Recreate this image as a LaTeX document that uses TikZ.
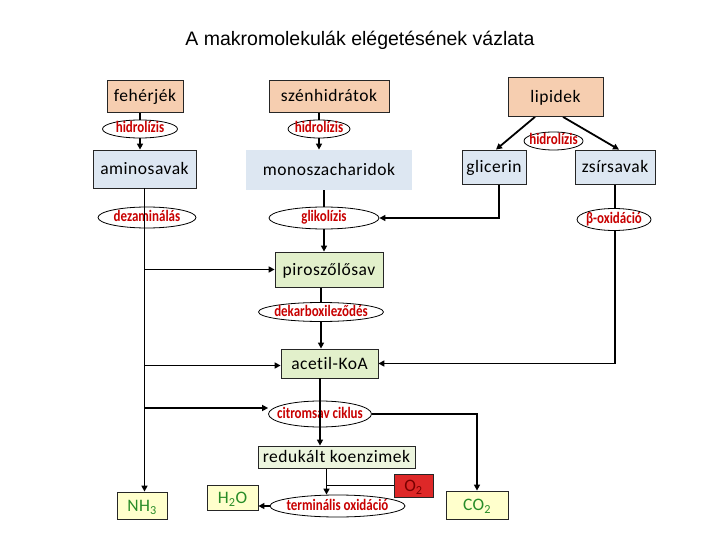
\documentclass[tikz,border=0pt]{standalone}
\usepackage{fontspec}
\setmainfont{Carlito}
\newfontfamily\titlefont{Liberation Sans}
\newfontfamily\boxfont[LetterSpace=3, Ligatures=NoCommon]{Carlito}
\newfontfamily\procfont[FakeStretch=0.81, Ligatures=NoCommon]{Carlito}
\usetikzlibrary{arrows.meta, shapes.geometric, backgrounds}
\definecolor{peach}{RGB}{246,206,176}
\definecolor{paleblue}{RGB}{221,231,242}
\definecolor{palegreen}{RGB}{226,240,203}
\definecolor{lightgreen}{RGB}{236,245,222}
\definecolor{paleyellow}{RGB}{255,255,204}
\definecolor{redbox}{RGB}{222,40,40}
\definecolor{darkred}{RGB}{120,0,0}
\definecolor{procred}{RGB}{200,0,0}
\definecolor{molgreen}{RGB}{40,140,40}

\begin{document}
\begin{tikzpicture}[x=1pt, y=-1pt,
  box/.style   = {draw=black!85, line width=0.8pt, inner sep=0pt, text height=16.6pt, text depth=4.7pt,
                  font=\boxfont\fontsize{17.5}{20}\selectfont},
  src/.style   = {box, fill=peach},
  inter/.style = {box, fill=paleblue},
  met/.style   = {box, fill=palegreen},
  prod/.style  = {box, fill=paleyellow, text=molgreen},
  proc/.style  = {ellipse, draw, line width=0.8pt, fill=white, inner sep=0pt, text=procred,
                  text height=9.6pt, text depth=1.6pt,
                  font=\procfont\bfseries\fontsize{16}{18}\selectfont,
                  execute at begin node=\hbox to 0pt\bgroup\hss,
                  execute at end node=\hss\egroup},
  arr/.style   = {-{Triangle[length=6pt,width=6pt]}, line width=1.8pt},
  ln/.style    = {line width=1.8pt}
]
\useasboundingbox (0,0) rectangle (720,540);

\node[font=\titlefont\fontsize{19.5}{22}\selectfont] (title) at (360,40) {A makromolekulák elégetésének vázlata};

% tapanyagok
\node[src, minimum width=76pt,  minimum height=32pt] (feh)  at (145,96)   {fehérjék};
\node[src, minimum width=120pt, minimum height=32pt] (szen) at (329,96)   {szénhidrátok};
\node[src, minimum width=95pt,  minimum height=39pt] (lip)  at (555.5,97) {lipidek};

% epitokovek
\node[inter, minimum width=103pt, minimum height=38pt] (amino)  at (144.5,169) {aminosavak};
\node[inter, draw=none, minimum width=166pt, minimum height=40pt] (monosz) at (329,170) {monoszacharidok};
\node[inter, minimum width=64pt, minimum height=34pt] (glic) at (494,167) {glicerin};
\node[inter, minimum width=80pt, minimum height=34pt] (zsir) at (615,167) {zsírsavak};

% kozos ut
\node[met, minimum width=108pt, minimum height=35pt] (piro)   at (329,269.5)   {piroszőlősav};
\node[met, minimum width=97pt,  minimum height=29pt] (acetil) at (329.5,363.5) {acetil-KoA};
\node[met, fill=lightgreen, minimum width=157pt, minimum height=22pt] (redu) at (336.5,457) {redukált koenzimek};

% vegtermekek
\node[prod, minimum width=50pt, minimum height=27pt] (nh3) at (142,505.5)   {NH\textsubscript{3}};
\node[prod, minimum width=51pt, minimum height=25pt] (h2o) at (232.5,497.5) {H\textsubscript{2}O};
\node[prod, minimum width=62pt, minimum height=28pt] (co2) at (477,505)     {CO\textsubscript{2}};
\node[box, fill=redbox, text=darkred, minimum width=39pt, minimum height=23pt] (o2) at (413.5,485.5) {O\textsubscript{2}};

% folyamatok
\node[proc, minimum width=75pt,  minimum height=18pt] (hid1)   at (140,129)   {hidrolízis};
\node[proc, minimum width=62pt,  minimum height=18pt] (hid2)   at (319,129)   {hidrolízis};
\node[proc, minimum width=59pt,  minimum height=18pt] (hid3)   at (553.5,141) {hidrolízis};
\node[proc, minimum width=98pt,  minimum height=21pt] (dezam)  at (147,217.5) {dezaminálás};
\node[proc, minimum width=110pt, minimum height=22pt] (glik)   at (324,218)   {glikolízis};
\node[proc, minimum width=74pt,  minimum height=22pt] (boxi)   at (614,219.5) {β-oxidáció};
\node[proc, minimum width=125pt, minimum height=19pt] (dekarb) at (321,312)   {dekarboxileződés};
\node[proc, minimum width=103pt, minimum height=26pt] (citr)   at (320,414)   {citromsav ciklus};
\node[proc, minimum width=135pt, minimum height=22pt] (term)   at (337.5,506) {terminális oxidáció};

\coordinate (tj) at ([xshift=-10pt]redu.south);

\begin{scope}[on background layer]
\draw[arr] (feh.south -| hid1) -- (amino.north -| hid1);
\draw[arr] (szen.south -| hid2) -- (monosz.north -| hid2);
\draw[arr] ([xshift=-20.5pt]lip.south) -- ([xshift=2pt]glic.north);
\draw[arr] ([xshift=7.5pt]lip.south) -- ([xshift=4pt]zsir.north);
\draw[arr] (monosz.south -| glik) -- (piro.north -| glik);
\draw[arr] ([xshift=5pt]glic.south) |- (glik.east);
\draw[arr] (zsir.south) |- (acetil.east);
\draw[arr] (piro.south -| dekarb) -- (acetil.north -| dekarb);
\draw[arr] (tj) -- (tj |- term.north);
\draw[ln] (o2.west) -- (tj |- o2.west);
\end{scope}

\draw[arr] (amino.south) -- (amino.south |- nh3.north);
\draw[arr] (amino.south |- piro.west) -- (piro.west);
\draw[arr] ([yshift=-2pt]amino.south |- acetil.west) -- ([yshift=-2pt]acetil.west);
\draw[arr] ([yshift=6pt]amino.south |- citr.west) -- ([yshift=6pt]citr.west);
\draw[arr] (acetil.south -| citr) -- (redu.north -| citr);
\draw[arr] (citr.east) -| (co2.north);
\draw[arr] (term.west) -- (term.west -| h2o.east);
\end{tikzpicture}
\end{document}
